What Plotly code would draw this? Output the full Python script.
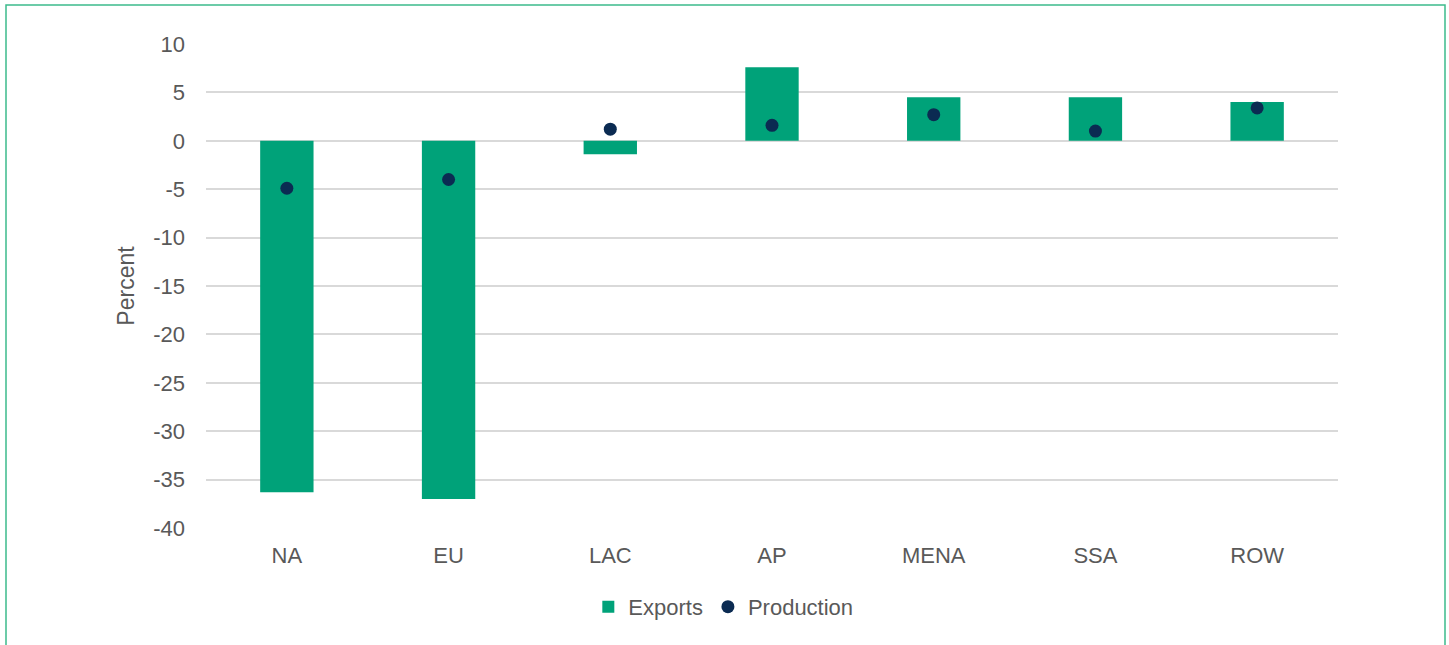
import plotly.graph_objects as go

regions = ["NA", "EU", "LAC", "AP", "MENA", "SSA", "ROW"]
exports = [-36.3, -37.0, -1.4, 7.6, 4.5, 4.5, 4.0]
production = [-4.9, -4.0, 1.2, 1.6, 2.7, 1.0, 3.4]
y_ticks = [10, 5, 0, -5, -10, -15, -20, -25, -30, -35, -40]

GREEN = "#00a279"
NAVY = "#0b2b52"
GREY = "#595959"

fig = go.Figure()

fig.add_trace(go.Bar(
    x=regions, y=exports, name="Exports",
    marker=dict(color=GREEN, line_width=0),
))
fig.add_trace(go.Scatter(
    x=regions, y=production, name="Production", mode="markers",
    marker=dict(color=NAVY, size=13),
))

fig.update_layout(
    width=1449, height=645,
    margin=dict(l=206, r=111, t=44, b=117),
    paper_bgcolor="white",
    plot_bgcolor="white",
    bargap=0.67,
    font=dict(family="Liberation Sans, Arial, sans-serif", size=22, color=GREY),
    legend=dict(orientation="h", x=0.457, xanchor="center", y=-0.163, yanchor="middle",
                font=dict(size=22, color=GREY), itemwidth=30, tracegroupgap=0),
    showlegend=True,
)

fig.update_yaxes(
    range=[-40, 10], tickvals=y_ticks, ticktext=[str(v) for v in y_ticks],
    showgrid=True, gridcolor="#d9d9d9", gridwidth=1.5,
    zeroline=True, zerolinecolor="#d9d9d9", zerolinewidth=1.5,
    ticks="", showline=False, ticklabelstandoff=20,
    title=dict(text="Percent", font=dict(size=23, color=GREY), standoff=12),
    tickfont=dict(size=22, color=GREY),
)
fig.update_xaxes(
    showgrid=False, showline=False, ticks="", ticklabelstandoff=12,
    tickfont=dict(size=22, color=GREY),
)

# thin green frame around the chart area
fig.add_shape(
    type="rect", xref="paper", yref="paper",
    x0=-200 / 1132, x1=1239 / 1132, y0=-140 / 484, y1=523 / 484,
    line=dict(color="#3dba8c", width=1.5), fillcolor="rgba(0,0,0,0)",
    layer="below",
)

# drop the default page margin so the figure sits at the window corner
fig.write_html("out.html", config={"displayModeBar": False},
               post_script="document.body.style.margin='0';")
